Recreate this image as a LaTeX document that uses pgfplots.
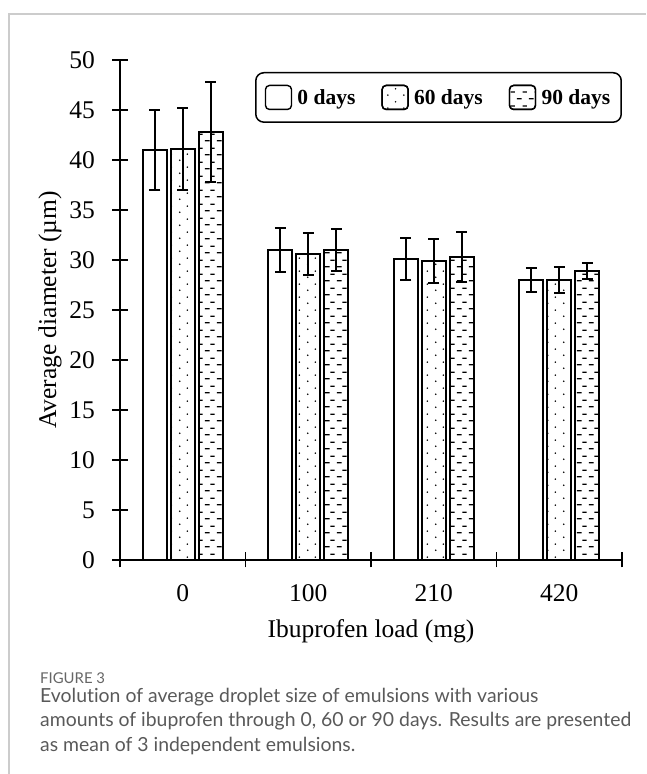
\documentclass[border=0pt]{standalone}
\usepackage{fontspec}
\setmainfont{Liberation Serif}
\newfontfamily\capfont[Ligatures=NoCommon]{Lato}
\usepackage{pgfplots}
\pgfplotsset{compat=1.18}
\usetikzlibrary{patterns.meta}

% sparse dots for the 60 days bars
\tikzdeclarepattern{
  name=sparsedots,
  type=uncolored,
  bounding box={(0pt,0pt) and (16pt,13pt)},
  tile size={(16pt,13pt)},
  code={
    \fill (4pt,3pt) circle (0.9pt);
    \fill (12pt,9.5pt) circle (0.9pt);
  }
}
% short horizontal dashes for the 90 days bars
\tikzdeclarepattern{
  name=hdashes,
  type=uncolored,
  bounding box={(0pt,0pt) and (12pt,14pt)},
  tile size={(12pt,14pt)},
  code={
    \draw[line width=1.3pt] (1pt,3.5pt) -- (6pt,3.5pt);
    \draw[line width=1.3pt] (7pt,10.5pt) -- (11.5pt,10.5pt);
  }
}

\pgfplotsset{
  ebar/.style={
    fill=white, draw=black, line width=2pt,
    error bars/.cd, y dir=both, y explicit,
    error bar style={line width=2pt, black},
    error mark options={rotate=90, mark size=5.5pt, line width=2pt, black},
  },
}

\begin{document}
\begin{tikzpicture}[x=1pt,y=1pt]
\useasboundingbox (0,0) rectangle (646,774);
\draw[black!20, line width=1.3pt] (9,0) -- (9,760) -- (646,760);

\begin{axis}[
  at={(120pt,214pt)}, anchor=south west,
  scale only axis, width=502pt, height=500pt,
  ybar=4pt, bar width=24pt,
  xmin=-0.5, xmax=3.5, ymin=0, ymax=50,
  enlargelimits=false,
  axis lines=left,
  axis line style={-, line width=1.6pt, black},
  tick align=center, major tick length=15pt,
  tick style={line width=1.6pt, black},
  xtick={-0.5,0.5,1.5,2.5,3.5},
  xticklabels={0,100,210,420,{}},
  xticklabel style={xshift=62.75pt, yshift=-14pt},
  ytick={0,5,...,50},
  yticklabel style={xshift=-14pt},
  /pgf/number format/assume math mode=true,
  ticklabel style={font=\fontsize{25.5}{25.5}\selectfont},
  label style={font=\fontsize{25.5}{25.5}\selectfont},
  xlabel={Ibuprofen load (mg)},
  xlabel style={at={(axis description cs:0.5,0)}, anchor=center, yshift=-71pt},
  ylabel={Average diameter (µm)},
  ylabel style={at={(axis description cs:-0.1394,0.5)}, anchor=center},
  legend columns=3,
  legend image code/.code={
    \draw[#1, line width=1.4pt, rounded corners=4pt] (0pt,-12pt) rectangle (26pt,12pt);
    \path (29pt,0pt);
  },
  legend style={
    at={(rel axis cs:0.269,0.976)}, anchor=north west,
    draw=black, line width=1.5pt, rounded corners=8pt,
    inner xsep=9pt, inner ysep=12pt,
    font=\bfseries\fontsize{21.5}{21.5}\selectfont,
    /tikz/every even column/.append style={column sep=24pt},
  },
]
\addplot[ebar] coordinates {
  (0,41.0) +- (0,4.0)
  (1,31.0) +- (0,2.2)
  (2,30.1) +- (0,2.1)
  (3,28.0) +- (0,1.2)
};
\addplot[postaction={pattern={sparsedots}, pattern color=black}, ebar] coordinates {
  (0,41.1) +- (0,4.1)
  (1,30.6) +- (0,2.1)
  (2,29.9) +- (0,2.2)
  (3,28.0) +- (0,1.3)
};
\addplot[postaction={pattern={hdashes}, pattern color=black}, ebar] coordinates {
  (0,42.8) +- (0,5.0)
  (1,31.0) +- (0,2.1)
  (2,30.3) +- (0,2.5)
  (3,28.9) +- (0,0.8)
};
\legend{0 days, 60 days, 90 days}
\end{axis}

\node[anchor=base west, inner sep=0, text=black!60,
  font=\capfont\fontsize{14.9}{14.9}\selectfont] at (40,90) {FIGURE 3};
\begin{scope}[every node/.style={anchor=base west, inner sep=0, text=black!65,
  font=\capfont\fontsize{19.4}{19.4}\selectfont}]
\node at (40,71) {Evolution of average droplet size of emulsions with various};
\node at (40,47) {amounts of ibuprofen through 0, 60 or 90 days. Results are presented};
\node at (40,23) {as mean of 3 independent emulsions.};
\end{scope}
\end{tikzpicture}
\end{document}
